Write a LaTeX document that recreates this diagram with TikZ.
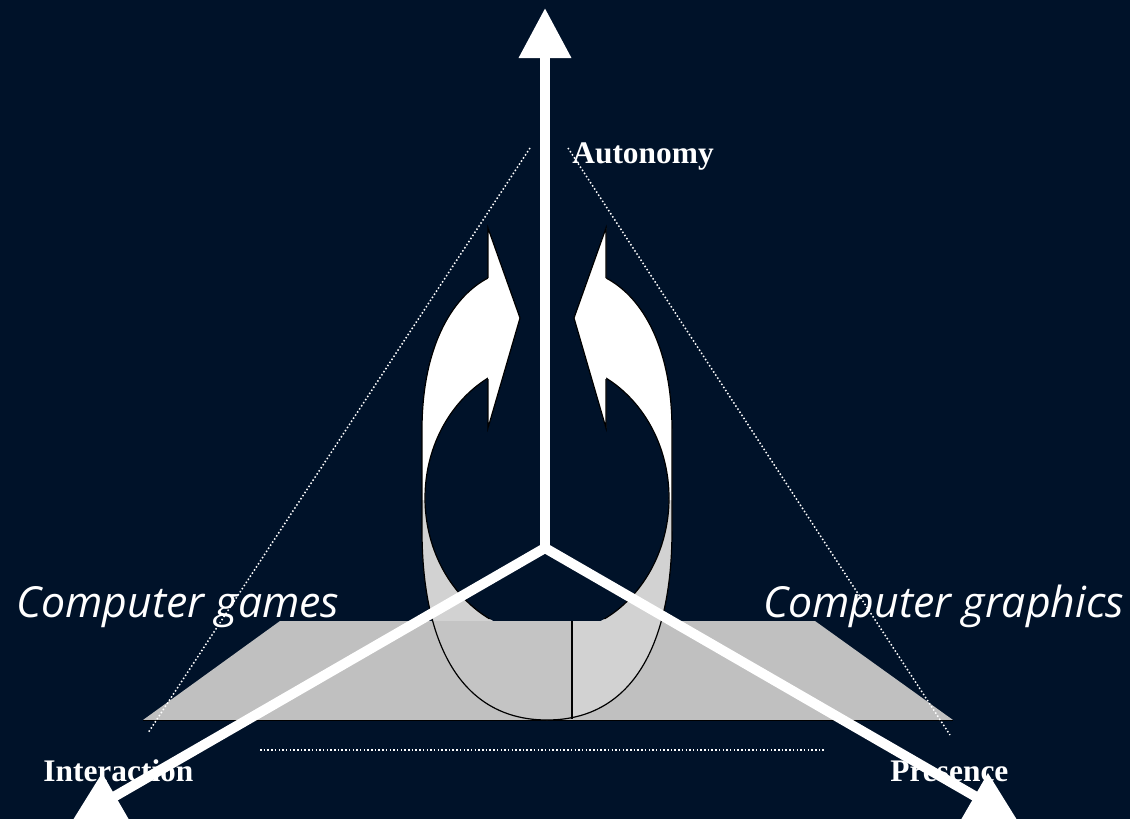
\documentclass[tikz,border=0pt]{standalone}
\usepackage{fontspec}
\setmainfont{Liberation Serif}
\newfontfamily\capfont{Open Sans}
\usetikzlibrary{arrows.meta}
\definecolor{night}{HTML}{001229}
\definecolor{planec}{HTML}{C0C0C0}
\definecolor{loopc}{HTML}{D2D2D2}
\definecolor{loopd}{HTML}{C4C4C4}
\newcommand\loopout{(488,278) .. controls (450,298) and (422,350) .. (422,430) -- (422,530)
  .. controls (422,650) and (465,720) .. (547,720) .. controls (629,720) and (672,650) .. (672,530)
  -- (672,430) .. controls (672,350) and (644,298) .. (606,278)}
\newcommand\loopin{(547,498) ellipse [x radius=122,y radius=137]}
\tikzset{
  axis/.style={draw=white,line width=5pt},
  tip/.style={-{Triangle[width=25pt,length=25pt]}},
  guide/.style={draw=white,line width=0.75pt,dash pattern=on 0.75pt off 1.1pt},
  rim/.style={draw=black,line width=0.6pt},
  dim/.style={font=\bfseries\fontsize{15.7}{18}\selectfont,text=white,inner sep=0pt,anchor=base west},
  field/.style={font=\capfont\itshape\fontsize{21.4}{25}\selectfont,text=white,inner sep=0pt,anchor=base west}
}
\begin{document}
\begin{tikzpicture}[x=0.5pt,y=-0.5pt]
  \fill[night] (0,0) rectangle (1130,819);
  \clip (0,0) rectangle (1130,819);
  \coordinate (O) at (545,548);
  \coordinate (endA) at (545,8);
  \coordinate (endI) at (72,821);
  \coordinate (endP) at (1018,821);
  % ground plane
  \fill[planec] (280,621) -- (815,621) -- (953,720) -- (143,720) -- cycle;
  \draw[rim] (143,720.5) -- (953,720.5);
  % lower half of the loop
  \begin{scope}
    \clip (0,500) rectangle (1130,621);
    \fill[loopc,even odd rule] \loopout -- cycle \loopin;
  \end{scope}
  \begin{scope}
    \clip (0,621) rectangle (572,730);
    \fill[loopd] \loopout -- cycle;
  \end{scope}
  \begin{scope}
    \clip (572,621) rectangle (700,730);
    \fill[loopc] \loopout -- cycle;
  \end{scope}
  % upper half: the two curved arrows
  \begin{scope}
    \clip (0,0) rectangle (488,500) (606,0) rectangle (1130,500);
    \fill[white,even odd rule] \loopout -- cycle \loopin;
  \end{scope}
  \draw[rim] \loopout;
  \begin{scope}
    \clip (0,0) rectangle (488,619) (606,0) rectangle (1130,619) (0,450) rectangle (1130,619);
    \draw[rim] \loopin;
  \end{scope}
  \draw[rim] (572,621) -- (572,719);
  \foreach \s in {1,-1}{
    \begin{scope}[shift={(547,0)},xscale=\s]
      \fill[white] (-59,228) -- (-27,318) -- (-59,428) -- cycle;
      \draw[rim] (-59,278) -- (-59,228) -- (-27,318) -- (-59,428) -- (-59,379);
    \end{scope}
  }
  % dotted guides
  \draw[guide] (530,148) -- (148,733);
  \draw[guide] (568,148) -- (950,735);
  \draw[guide] (260,750) -- (826,750);
  % axes
  \draw[axis,{Triangle[width=25pt,length=25pt]}-{Triangle[width=25pt,length=25pt]}] (endI) -- (O) -- (endP);
  \draw[axis,tip] (O) -- (endA);
  \node[dim] (aut) at (572,163) {Autonomy};
  \node[dim] (int) at (43,781) {Interaction};
  \node[dim] (pres) at (890,781) {Presence};
  \node[field] (games) at (16,617) {Computer games};
  \node[field] (graph) at (763,617) {Computer graphics};
\end{tikzpicture}
\end{document}
